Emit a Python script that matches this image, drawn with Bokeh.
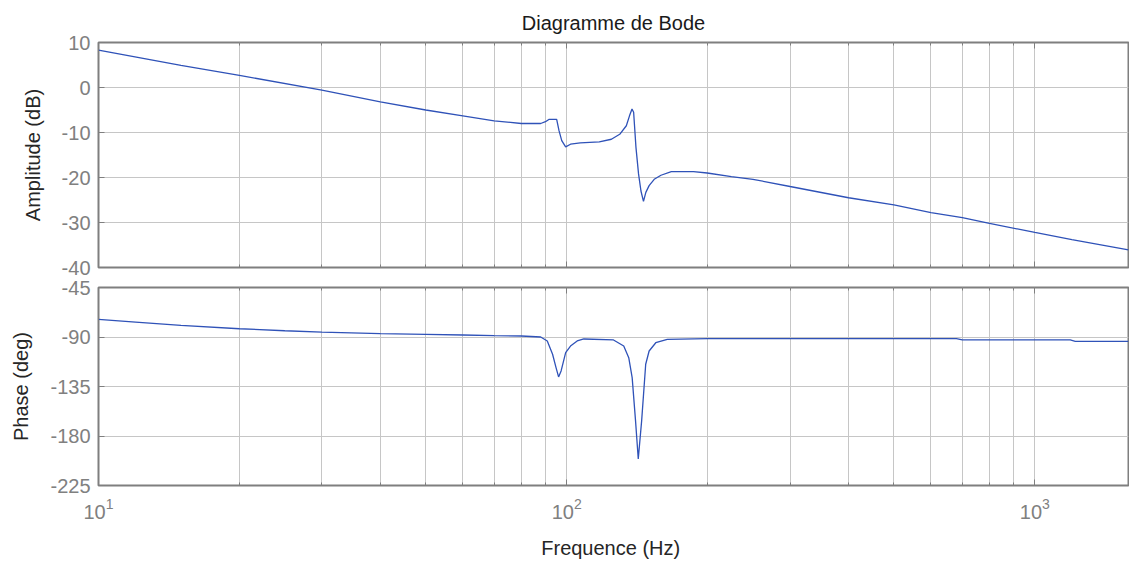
from bokeh.plotting import figure
from bokeh.layouts import column
from bokeh.models import FixedTicker, LogTicker, Range1d, LogAxis, CustomJSTickFormatter
from bokeh.embed import file_html
from bokeh.resources import INLINE

# ---- data ----
freq_amp = [10, 15, 20, 30, 40, 50, 60, 70, 80, 88, 90.1, 91.6, 95.2, 96.3, 97.6, 99.5,
            101.9, 106.9, 117.4, 124.6, 129.8, 134.1, 136.2, 137.9, 139.0, 140.6, 142.4,
            144.1, 145.9, 147.6, 150, 153.8, 159, 167.3, 186.6, 199.6, 224.8, 250, 300,
            400, 500, 600, 700, 800, 1000, 1200, 1585]
amp_db = [8.3, 4.9, 2.7, -0.6, -3.2, -5.0, -6.3, -7.4, -8.0, -8.0, -7.6, -7.1, -7.1, -9.6,
          -11.8, -13.2, -12.6, -12.3, -12.1, -11.5, -10.4, -8.5, -6.3, -4.8, -5.5, -13.3,
          -19.2, -23.0, -25.3, -23.3, -21.8, -20.4, -19.5, -18.7, -18.7, -19.0, -19.8,
          -20.4, -22.0, -24.5, -26.1, -27.8, -28.9, -30.2, -32.2, -33.8, -36.1]

freq_ph = [10, 12, 15, 20, 25, 30, 40, 50, 60, 70, 80, 88, 90.9, 93.3, 94.9, 96.1, 97.3,
           99.5, 101.9, 105.3, 108.8, 125.9, 132.4, 135.7, 138.0, 140.3, 142.2, 144.6,
           147.5, 150, 155, 164, 200, 680, 700, 1190, 1220, 1585]
phase_deg = [-73.9, -76.5, -79.5, -82.5, -84.3, -85.5, -87.0, -87.6, -88.2, -88.8, -89.1,
             -90.0, -93.6, -105.7, -117.8, -126.3, -120.8, -104.2, -98.2, -93.6, -91.8,
             -92.7, -98.2, -108.8, -126.9, -166.0, -200.9, -166.0, -114.8, -102.7, -95.2,
             -92.1, -91.5, -91.5, -92.7, -92.7, -93.9, -93.9]

amp_ticks = [-40, -30, -20, -10, 0, 10]
phase_ticks = [-225, -180, -135, -90, -45]
x_limits = (10, 1585)

FONT = "Liberation Sans"
TICK_COLOR = "#808080"
LABEL_COLOR = "#262626"
GRID_COLOR = "#c6c6c6"
FRAME_COLOR = "#7f7f7f"
LINE_COLOR = "#2f52b8"
empty_fmt = "return ''"
plain_fmt = "return tick.toString()"


def style(p, yticks, show_x_labels):
    p.outline_line_color = FRAME_COLOR
    p.outline_line_width = 2
    p.background_fill_color = "white"
    p.border_fill_color = "white"
    p.yaxis.ticker = FixedTicker(ticks=yticks)
    p.ygrid.ticker = FixedTicker(ticks=yticks)
    p.yaxis.formatter = CustomJSTickFormatter(code=plain_fmt)
    p.xaxis.ticker = LogTicker(num_minor_ticks=10)
    for ax in p.xaxis + p.yaxis:
        ax.axis_line_color = FRAME_COLOR
        ax.major_tick_in = 6
        ax.major_tick_out = 0
        ax.minor_tick_in = 3
        ax.minor_tick_out = 0
        ax.major_tick_line_color = FRAME_COLOR
        ax.minor_tick_line_color = FRAME_COLOR
        ax.major_label_text_font = FONT
        ax.major_label_text_font_size = "20px"
        ax.major_label_text_color = TICK_COLOR
        ax.axis_label_text_font = FONT
        ax.axis_label_text_font_size = "20px"
        ax.axis_label_text_font_style = "normal"
        ax.axis_label_text_color = LABEL_COLOR
    for ax in p.yaxis:
        ax.minor_tick_line_color = None
        ax.major_label_standoff = 8
        ax.axis_label_standoff = 15
    if not show_x_labels:
        p.xaxis.formatter = CustomJSTickFormatter(code=empty_fmt)
        p.xaxis.major_label_standoff = 0
    else:
        p.xaxis.major_label_standoff = 12
        p.xaxis.axis_label_standoff = 15
    p.xgrid.grid_line_color = GRID_COLOR
    p.xgrid.minor_grid_line_color = GRID_COLOR
    p.ygrid.grid_line_color = GRID_COLOR
    p.xgrid.grid_line_width = 1
    p.ygrid.grid_line_width = 1

    # box ticks on the top, as in the original
    ta = LogAxis(ticker=LogTicker(num_minor_ticks=10), formatter=CustomJSTickFormatter(code=empty_fmt))
    ta.axis_line_color = None
    ta.major_tick_in = 6
    ta.major_tick_out = 0
    ta.minor_tick_in = 3
    ta.minor_tick_out = 0
    ta.major_tick_line_color = FRAME_COLOR
    ta.minor_tick_line_color = FRAME_COLOR
    ta.major_label_standoff = 0
    ta.major_label_text_font_size = "0px"
    p.add_layout(ta, "above")


p1 = figure(width=1129, height=278, x_axis_type="log",
            x_range=Range1d(*x_limits), y_range=Range1d(-40, 10),
            output_backend="svg", toolbar_location=None,
            title="Diagramme de Bode",
            min_border_left=98, min_border_right=1, min_border_top=42, min_border_bottom=11)
p1.title.align = "center"
p1.title.text_font = FONT
p1.title.text_font_size = "20px"
p1.title.text_font_style = "normal"
p1.title.text_color = "#1a1a1a"
p1.title.standoff = 17
p1.yaxis.axis_label = "Amplitude (dB)"
style(p1, amp_ticks, False)
p1.line(freq_amp, amp_db, line_color=LINE_COLOR, line_width=1.3)

p2 = figure(width=1129, height=283, x_axis_type="log",
            x_range=Range1d(*x_limits), y_range=Range1d(-225, -45),
            output_backend="svg", toolbar_location=None,
            min_border_left=98, min_border_right=1, min_border_top=9, min_border_bottom=74)
p2.yaxis.axis_label = "Phase (deg)"
p2.xaxis.axis_label = "Frequence  (Hz)"
style(p2, phase_ticks, True)
p2.line(freq_ph, phase_deg, line_color=LINE_COLOR, line_width=1.3)

layout = column(p1, p2, spacing=0)
open("out.html", "w").write(file_html(layout, INLINE))
